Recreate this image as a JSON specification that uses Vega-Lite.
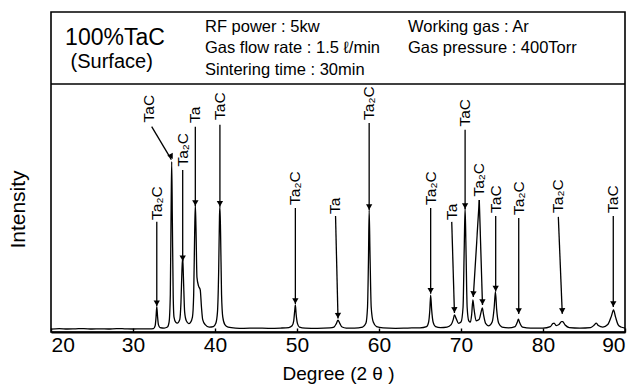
{
  "$schema": "https://vega.github.io/schema/vega-lite/v6.json",
  "autosize": {"type": "none"},
  "padding": {"left": 51, "top": 12, "right": 14, "bottom": 57},
  "width": 574,
  "height": 320,
  "background": "white",
  "config": {
    "font": "Liberation Sans",
    "view": {"stroke": "black", "strokeWidth": 1.6},
    "axis": {"grid": false}
  },
  "datasets": {
    "spec": [
      {"deg": 20.0, "I": 1.2}, {"deg": 21.0, "I": 1.4}, {"deg": 22.0, "I": 1.2}, {"deg": 23.0, "I": 1.3},
      {"deg": 24.0, "I": 1.4}, {"deg": 25.0, "I": 1.2}, {"deg": 26.0, "I": 1.3}, {"deg": 27.0, "I": 1.2},
      {"deg": 28.0, "I": 1.4}, {"deg": 29.0, "I": 1.3}, {"deg": 30.0, "I": 1.2}, {"deg": 31.0, "I": 1.3},
      {"deg": 32.0, "I": 1.3}, {"deg": 32.5, "I": 1.4}, {"deg": 32.7, "I": 2.5}, {"deg": 32.8, "I": 5.5},
      {"deg": 32.9, "I": 10.2}, {"deg": 33.0, "I": 6.0}, {"deg": 33.1, "I": 3.0}, {"deg": 33.3, "I": 1.8},
      {"deg": 33.8, "I": 1.6}, {"deg": 34.2, "I": 2.0}, {"deg": 34.4, "I": 4.0}, {"deg": 34.55, "I": 15},
      {"deg": 34.65, "I": 50}, {"deg": 34.72, "I": 68.7}, {"deg": 34.8, "I": 45}, {"deg": 34.9, "I": 15},
      {"deg": 35.0, "I": 6}, {"deg": 35.2, "I": 4}, {"deg": 35.4, "I": 3.6}, {"deg": 35.7, "I": 5},
      {"deg": 35.85, "I": 12}, {"deg": 35.97, "I": 25}, {"deg": 36.06, "I": 30.2}, {"deg": 36.15, "I": 22},
      {"deg": 36.3, "I": 8}, {"deg": 36.5, "I": 4.5}, {"deg": 36.8, "I": 3.4}, {"deg": 37.0, "I": 3.8},
      {"deg": 37.25, "I": 6}, {"deg": 37.4, "I": 15}, {"deg": 37.52, "I": 40}, {"deg": 37.6, "I": 51.2},
      {"deg": 37.68, "I": 42}, {"deg": 37.8, "I": 22}, {"deg": 38.0, "I": 18.5}, {"deg": 38.2, "I": 17},
      {"deg": 38.35, "I": 10}, {"deg": 38.5, "I": 5}, {"deg": 38.8, "I": 3}, {"deg": 39.3, "I": 2},
      {"deg": 39.8, "I": 2.2}, {"deg": 40.1, "I": 3.5}, {"deg": 40.3, "I": 8}, {"deg": 40.45, "I": 25},
      {"deg": 40.55, "I": 47}, {"deg": 40.6, "I": 50.5}, {"deg": 40.68, "I": 40}, {"deg": 40.8, "I": 15},
      {"deg": 40.95, "I": 6}, {"deg": 41.2, "I": 3}, {"deg": 41.6, "I": 2}, {"deg": 42.5, "I": 1.6},
      {"deg": 43.5, "I": 1.5}, {"deg": 45.0, "I": 1.6}, {"deg": 46.5, "I": 1.5}, {"deg": 48.0, "I": 1.6},
      {"deg": 49.0, "I": 1.8}, {"deg": 49.4, "I": 2.5}, {"deg": 49.6, "I": 4.5}, {"deg": 49.72, "I": 8.5},
      {"deg": 49.8, "I": 10.9}, {"deg": 49.9, "I": 7}, {"deg": 50.05, "I": 3.5}, {"deg": 50.3, "I": 2},
      {"deg": 51.0, "I": 1.6}, {"deg": 52.5, "I": 1.5}, {"deg": 54.0, "I": 1.7}, {"deg": 54.5, "I": 2},
      {"deg": 54.8, "I": 3.4}, {"deg": 55.0, "I": 4.8}, {"deg": 55.2, "I": 3.6}, {"deg": 55.5, "I": 2},
      {"deg": 56.0, "I": 1.6}, {"deg": 57.0, "I": 1.6}, {"deg": 58.0, "I": 2}, {"deg": 58.4, "I": 3.5},
      {"deg": 58.6, "I": 10}, {"deg": 58.72, "I": 30}, {"deg": 58.8, "I": 49.2}, {"deg": 58.9, "I": 32},
      {"deg": 59.05, "I": 10}, {"deg": 59.3, "I": 4}, {"deg": 59.7, "I": 2.2}, {"deg": 60.5, "I": 1.7},
      {"deg": 62.0, "I": 1.5}, {"deg": 63.5, "I": 1.6}, {"deg": 65.0, "I": 1.7}, {"deg": 65.8, "I": 2.2},
      {"deg": 66.05, "I": 4}, {"deg": 66.2, "I": 9}, {"deg": 66.3, "I": 14.9}, {"deg": 66.42, "I": 9},
      {"deg": 66.6, "I": 4}, {"deg": 66.9, "I": 2.2}, {"deg": 67.5, "I": 1.8}, {"deg": 68.3, "I": 2.0},
      {"deg": 68.8, "I": 3.0}, {"deg": 69.05, "I": 5}, {"deg": 69.2, "I": 6.9}, {"deg": 69.4, "I": 5.5},
      {"deg": 69.7, "I": 3.5}, {"deg": 70.0, "I": 4}, {"deg": 70.25, "I": 10}, {"deg": 70.4, "I": 35},
      {"deg": 70.5, "I": 50}, {"deg": 70.6, "I": 35}, {"deg": 70.75, "I": 10}, {"deg": 70.95, "I": 4.5},
      {"deg": 71.15, "I": 4}, {"deg": 71.3, "I": 7}, {"deg": 71.45, "I": 12.9}, {"deg": 71.6, "I": 9},
      {"deg": 71.85, "I": 4.5}, {"deg": 72.2, "I": 5}, {"deg": 72.45, "I": 8}, {"deg": 72.6, "I": 9.7},
      {"deg": 72.75, "I": 7}, {"deg": 73.0, "I": 3.5}, {"deg": 73.4, "I": 2.5}, {"deg": 73.8, "I": 4},
      {"deg": 74.05, "I": 10}, {"deg": 74.2, "I": 16.3}, {"deg": 74.35, "I": 9}, {"deg": 74.6, "I": 3.5},
      {"deg": 75.0, "I": 2}, {"deg": 75.8, "I": 1.7}, {"deg": 76.6, "I": 2.2}, {"deg": 76.85, "I": 3.8},
      {"deg": 77.0, "I": 5.2}, {"deg": 77.15, "I": 3.8}, {"deg": 77.5, "I": 2}, {"deg": 78.5, "I": 1.6},
      {"deg": 80.0, "I": 1.6}, {"deg": 80.9, "I": 2.2}, {"deg": 81.2, "I": 3.4}, {"deg": 81.35, "I": 3.6},
      {"deg": 81.6, "I": 2.6}, {"deg": 81.95, "I": 3}, {"deg": 82.25, "I": 4.2}, {"deg": 82.4, "I": 4.2},
      {"deg": 82.7, "I": 2.8}, {"deg": 83.2, "I": 1.8}, {"deg": 84.5, "I": 1.6}, {"deg": 85.8, "I": 1.8},
      {"deg": 86.25, "I": 2.8}, {"deg": 86.5, "I": 3.6}, {"deg": 86.75, "I": 2.6}, {"deg": 87.3, "I": 2},
      {"deg": 87.9, "I": 3}, {"deg": 88.35, "I": 6.5}, {"deg": 88.6, "I": 8.9}, {"deg": 88.85, "I": 6},
      {"deg": 89.15, "I": 3}, {"deg": 89.5, "I": 2}, {"deg": 90.0, "I": 1.6}
    ],
    "labels": [
      {"phase": "Ta₂C", "lx": 32.9, "ly": 45.2},
      {"phase": "TaC", "lx": 31.95, "ly": 84.5},
      {"phase": "Ta₂C", "lx": 36.06, "ly": 66.7},
      {"phase": "Ta", "lx": 37.6, "ly": 84.3},
      {"phase": "TaC", "lx": 40.6, "ly": 85.5},
      {"phase": "Ta₂C", "lx": 49.8, "ly": 51.2},
      {"phase": "Ta", "lx": 54.65, "ly": 47.6},
      {"phase": "Ta₂C", "lx": 58.8, "ly": 85.5},
      {"phase": "Ta₂C", "lx": 66.3, "ly": 51.2},
      {"phase": "Ta", "lx": 68.87, "ly": 45.2},
      {"phase": "TaC", "lx": 70.5, "ly": 82.8},
      {"phase": "Ta₂C", "lx": 72.23, "ly": 54.6},
      {"phase": "TaC", "lx": 74.23, "ly": 48},
      {"phase": "Ta₂C", "lx": 77.04, "ly": 47.2},
      {"phase": "Ta₂C", "lx": 81.87, "ly": 48},
      {"phase": "TaC", "lx": 88.57, "ly": 48}
    ],
    "arrows": [
      {"x1": 32.9, "y1": 44.4, "x2": 32.9, "y2": 10.4, "ang": 0},
      {"x1": 32.28, "y1": 82.8, "x2": 34.68, "y2": 69.5, "ang": 330},
      {"x1": 36.06, "y1": 65.3, "x2": 36.06, "y2": 28.5, "ang": 0},
      {"x1": 37.6, "y1": 82.7, "x2": 37.6, "y2": 50.8, "ang": 0},
      {"x1": 40.6, "y1": 83.5, "x2": 40.6, "y2": 50.5, "ang": 0},
      {"x1": 49.8, "y1": 50.0, "x2": 49.8, "y2": 11.3, "ang": 0},
      {"x1": 54.7, "y1": 46.8, "x2": 55.0, "y2": 5.4, "ang": 359},
      {"x1": 58.8, "y1": 84.3, "x2": 58.8, "y2": 49.2, "ang": 0},
      {"x1": 66.3, "y1": 50.0, "x2": 66.3, "y2": 15.4, "ang": 0},
      {"x1": 68.87, "y1": 44.4, "x2": 69.2, "y2": 7.7, "ang": 358},
      {"x1": 70.5, "y1": 81.5, "x2": 70.5, "y2": 49.6, "ang": 0},
      {"x1": 72.23, "y1": 53.2, "x2": 71.5, "y2": 14.1, "ang": 3.5},
      {"x1": 72.23, "y1": 53.2, "x2": 72.62, "y2": 10.9, "ang": 358.4},
      {"x1": 74.23, "y1": 46.8, "x2": 74.23, "y2": 16.3, "ang": 0},
      {"x1": 77.04, "y1": 46.0, "x2": 77.04, "y2": 7.3, "ang": 0},
      {"x1": 81.87, "y1": 46.4, "x2": 82.35, "y2": 7.3, "ang": 357.7},
      {"x1": 88.57, "y1": 46.8, "x2": 88.57, "y2": 10.1, "ang": 0}
    ],
    "divider": [{"dv": 100}],
    "title": [{"t": "100%TaC", "tx": 27.8, "ty": 115.6}],
    "subtitle": [{"t": "(Surface)", "tx": 27.4, "ty": 106.4}],
    "params": [
      {"t": "RF power : 5kw", "tx": 38.78, "ty": 121.1},
      {"t": "Gas flow rate : 1.5 ℓ/min", "tx": 38.78, "ty": 112.4},
      {"t": "Sintering time : 30min", "tx": 38.78, "ty": 103.6},
      {"t": "Working gas : Ar", "tx": 63.54, "ty": 121.1},
      {"t": "Gas pressure : 400Torr", "tx": 63.54, "ty": 112.4}
    ]
  },
  "layer": [
    {
      "data": {"name": "spec"},
      "mark": {"type": "line", "color": "black", "strokeWidth": 1.3, "interpolate": "monotone"},
      "encoding": {
        "x": {
          "field": "deg", "type": "quantitative",
          "scale": {"domain": [20, 90], "nice": false, "zero": false},
          "axis": {
            "values": [20, 30, 40, 50, 60, 70, 80, 90],
            "title": "Degree (2 θ )",
            "titleFontSize": 19, "titleFontWeight": "normal", "titleColor": "black", "titlePadding": 9,
            "labelFontSize": 21, "labelColor": "black", "labelPadding": 6,
            "tickSize": -4, "tickColor": "black", "tickWidth": 1.4,
            "domainColor": "black", "domainWidth": 1.8
          }
        },
        "y": {
          "field": "I", "type": "quantitative",
          "scale": {"domain": [0, 129], "nice": false, "zero": false},
          "axis": {
            "title": "Intensity", "labels": false, "ticks": false, "domain": false,
            "titleFontSize": 21, "titleFontWeight": "normal", "titleColor": "black",
            "titleX": -33, "titleY": 197, "titleBaseline": "middle", "titleAlign": "center", "titleAngle": 270
          }
        }
      }
    },
    {
      "data": {"name": "divider"},
      "mark": {"type": "rule", "color": "black", "strokeWidth": 1.6},
      "encoding": {"y": {"field": "dv", "type": "quantitative"}}
    },
    {
      "data": {"name": "arrows"},
      "mark": {"type": "rule", "color": "black", "strokeWidth": 1.3},
      "encoding": {
        "x": {"field": "x1", "type": "quantitative"},
        "y": {"field": "y1", "type": "quantitative"},
        "x2": {"field": "x2"},
        "y2": {"field": "y2"}
      }
    },
    {
      "data": {"name": "arrows"},
      "mark": {"type": "point", "shape": "triangle-down", "filled": true, "color": "black", "opacity": 1, "size": 40, "yOffset": -3},
      "encoding": {
        "x": {"field": "x2", "type": "quantitative"},
        "y": {"field": "y2", "type": "quantitative"},
        "angle": {"field": "ang", "type": "quantitative", "scale": null}
      }
    },
    {
      "data": {"name": "labels"},
      "mark": {"type": "text", "angle": 270, "align": "left", "baseline": "middle", "fontSize": 15.5, "color": "black", "font": "Liberation Sans"},
      "encoding": {
        "x": {"field": "lx", "type": "quantitative"},
        "y": {"field": "ly", "type": "quantitative"},
        "text": {"field": "phase"}
      }
    },
    {
      "data": {"name": "title"},
      "mark": {"type": "text", "align": "center", "baseline": "alphabetic", "fontSize": 23, "color": "black"},
      "encoding": {
        "x": {"field": "tx", "type": "quantitative"},
        "y": {"field": "ty", "type": "quantitative"},
        "text": {"field": "t"}
      }
    },
    {
      "data": {"name": "subtitle"},
      "mark": {"type": "text", "align": "center", "baseline": "alphabetic", "fontSize": 20, "color": "black"},
      "encoding": {
        "x": {"field": "tx", "type": "quantitative"},
        "y": {"field": "ty", "type": "quantitative"},
        "text": {"field": "t"}
      }
    },
    {
      "data": {"name": "params"},
      "mark": {"type": "text", "align": "left", "baseline": "alphabetic", "fontSize": 16.5, "color": "black"},
      "encoding": {
        "x": {"field": "tx", "type": "quantitative"},
        "y": {"field": "ty", "type": "quantitative"},
        "text": {"field": "t"}
      }
    }
  ]
}
